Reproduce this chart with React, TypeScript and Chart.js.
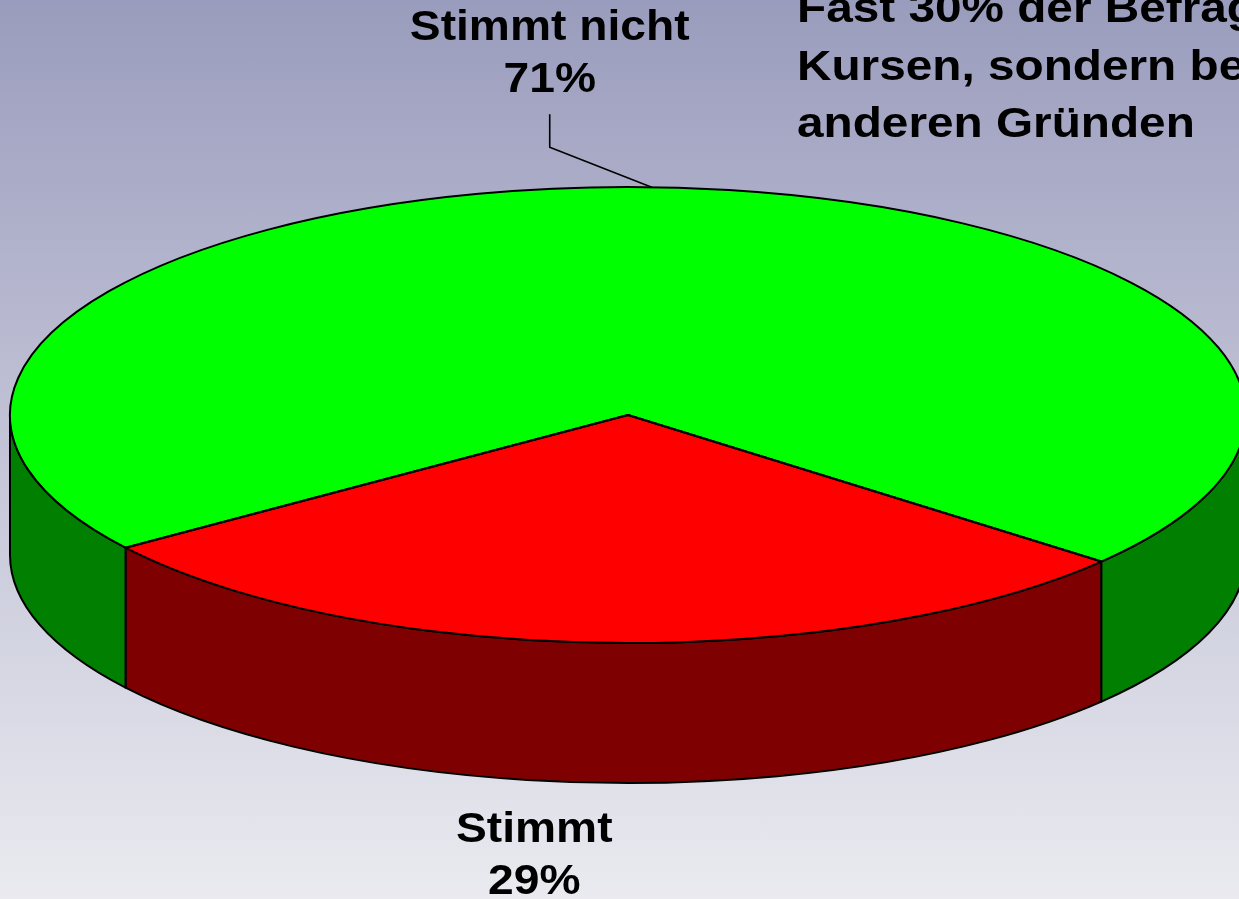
import React, { useEffect, useRef } from "react";
import { Chart, registerables } from "chart.js";

Chart.register(...registerables);

// ---- data ----
const categories: string[] = ["Stimmt", "Stimmt nicht"];
const shares: number[] = [29, 71];
const percentLabels: string[] = ["29%", "71%"];
const noteLines: string[] = ["Fast 30% der Befragten", "Kursen, sondern bei", "anderen Gründen"];

// ---- styles / layout ----
const W = 1239;
const H = 899;
const topColors = ["#ff0000", "#00ff00"];
const sideColors = ["#7f0000", "#007f00"];
const PIE = { cx: 628, cy: 415, rx: 618, ry: 228, depth: 140, rotation: 130 };
const FONT = 'bold 42px "Liberation Sans", Arial, sans-serif';
const NOTE_FONT = 'bold 43px "Liberation Sans", Arial, sans-serif';
const STRETCH = 1.1;
const NOTE_STRETCH = 1.11;
const LABEL_LINE = 52;
const NOTE = { x: 797, y: 22, line: 57.5 };

function drawText(
  ctx: CanvasRenderingContext2D,
  text: string,
  x: number,
  y: number,
  align: CanvasTextAlign,
  stretch: number
) {
  ctx.save();
  ctx.translate(x, y);
  ctx.scale(stretch, 1);
  ctx.textAlign = align;
  ctx.textBaseline = "alphabetic";
  ctx.fillText(text, 0, 0);
  ctx.restore();
}

const pie3d = {
  id: "pie3d",
  beforeDatasetsDraw(chart: any) {
    const ctx: CanvasRenderingContext2D = chart.ctx;
    const meta = chart.getDatasetMeta(0);
    const { cx, cy, rx, ry, depth } = PIE;
    ctx.save();
    ctx.lineWidth = 2;
    ctx.strokeStyle = "#000";
    ctx.lineJoin = "round";
    meta.data.forEach((arc: any, i: number) => {
      const s = arc.startAngle;
      const e = arc.endAngle;
      for (let k = -1; k <= 2; k++) {
        const a = Math.max(s, k * 2 * Math.PI);
        const b = Math.min(e, k * 2 * Math.PI + Math.PI);
        if (b - a <= 1e-6) continue;
        ctx.beginPath();
        ctx.ellipse(cx, cy, rx, ry, 0, a, b, false);
        ctx.ellipse(cx, cy + depth, rx, ry, 0, b, a, true);
        ctx.closePath();
        ctx.fillStyle = sideColors[i];
        ctx.fill();
        ctx.stroke();
      }
    });
    ctx.restore();
    const arc0 = meta.data[0];
    const R = arc0.outerRadius;
    ctx.save();
    ctx.translate(cx, cy);
    ctx.scale(rx / R, ry / R);
    ctx.translate(-arc0.x, -arc0.y);
  },
  afterDatasetsDraw(chart: any) {
    const ctx: CanvasRenderingContext2D = chart.ctx;
    ctx.restore();
    const meta = chart.getDatasetMeta(0);
    const { cx, cy, rx, ry, depth } = PIE;
    ctx.save();
    ctx.lineWidth = 2;
    ctx.strokeStyle = "#000";
    ctx.lineJoin = "round";
    meta.data.forEach((arc: any) => {
      ctx.beginPath();
      ctx.moveTo(cx, cy);
      ctx.ellipse(cx, cy, rx, ry, 0, arc.startAngle, arc.endAngle, false);
      ctx.closePath();
      ctx.stroke();
    });

    // slice labels
    ctx.fillStyle = "#000";
    ctx.font = FONT;
    meta.data.forEach((arc: any, i: number) => {
      const mid = (arc.startAngle + arc.endAngle) / 2;
      const back = Math.sin(mid) < 0;
      const px = cx + rx * Math.cos(mid);
      const py = cy + ry * Math.sin(mid) + (back ? 0 : depth);
      if (back) {
        const ex = px - 102;
        const ey = py - 40;
        ctx.beginPath();
        ctx.moveTo(px, py);
        ctx.lineTo(ex, ey);
        ctx.lineTo(ex, ey - 33);
        ctx.lineWidth = 1.6;
        ctx.stroke();
        drawText(ctx, percentLabels[i], ex, ey - 55, "center", STRETCH);
        drawText(ctx, categories[i], ex, ey - 55 - LABEL_LINE, "center", STRETCH);
      } else {
        const lx = px - 70;
        drawText(ctx, categories[i], lx, py + 59, "center", STRETCH);
        drawText(ctx, percentLabels[i], lx, py + 59 + LABEL_LINE, "center", STRETCH);
      }
    });

    // note text
    ctx.font = NOTE_FONT;
    noteLines.forEach((t, j) =>
      drawText(ctx, t, NOTE.x, NOTE.y + j * NOTE.line, "left", NOTE_STRETCH)
    );
    ctx.restore();
  },
};

export default function App() {
  const ref = useRef<HTMLCanvasElement | null>(null);
  useEffect(() => {
    if (!ref.current) return;
    const chart = new Chart(ref.current, {
      type: "pie",
      data: {
        labels: categories,
        datasets: [
          {
            data: shares,
            backgroundColor: topColors,
            borderWidth: 0,
            clip: false as any,
          },
        ],
      },
      options: {
        responsive: false,
        animation: false,
        rotation: PIE.rotation,
        layout: { padding: 0 },
        plugins: {
          legend: { display: false },
          tooltip: { enabled: false },
        },
      },
      plugins: [pie3d],
    });
    return () => chart.destroy();
  }, []);
  return (
    <div
      style={{
        position: "fixed",
        left: 0,
        top: 0,
        width: W,
        height: H,
        overflow: "hidden",
        background: "linear-gradient(to bottom, #9a9cbd 0%, #c3c4d7 50%, #eaeaf0 100%)",
      }}
    >
      <canvas ref={ref} width={W} height={H} style={{ display: "block" }} />
    </div>
  );
}
